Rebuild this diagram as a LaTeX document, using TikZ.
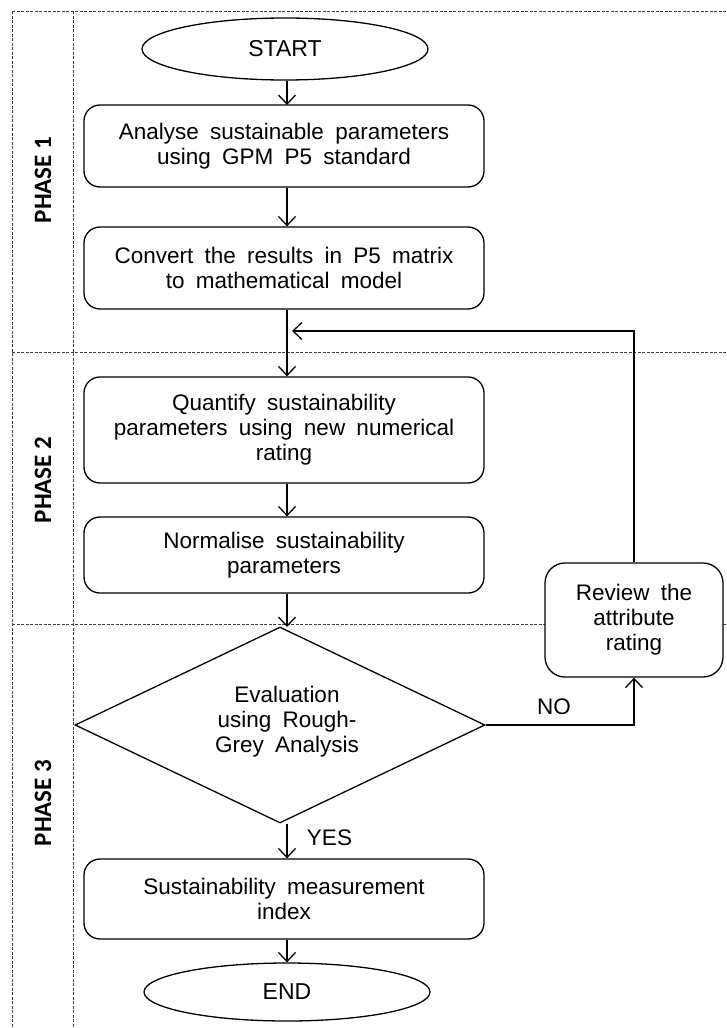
\documentclass[tikz,border=0pt]{standalone}
\usepackage{fontspec}
\setmainfont{Liberation Sans}
\newfontfamily\phasefont{Carlito}
\usetikzlibrary{shapes.geometric,arrows.meta}
\newcommand\boxtextfont{\fontsize{22.5}{25}\selectfont\spaceskip 0.5em\relax}
\begin{document}
\begin{tikzpicture}[x=1pt,y=-1pt,
  every node/.style={font=\boxtextfont, align=center},
  procbox/.style={draw, fill=white, line width=1.3pt, rounded corners=16pt, minimum width=400pt, inner sep=2pt},
  term/.style={draw, fill=white, ellipse, line width=1.3pt, minimum width=286pt, font=\fontsize{23}{26}\selectfont},
  arr/.style={line width=1.3pt, -{Straight Barb[length=9pt,width=17pt,line width=1.3pt]}},
  frame/.style={line width=0.9pt, draw=black!75, dash pattern=on 3pt off 1.5pt},
  phase/.style={rotate=90, font=\phasefont\bfseries\fontsize{25}{28}\selectfont}
]
\useasboundingbox (0,0) rectangle (727,1028);
% frame
\draw[frame] (12,11) -- (727,11);
\draw[frame] (12,11) -- (12,1028);
\draw[frame] (73,11) -- (73,1028);
\draw[frame] (12,352) -- (727,352);
\draw[frame] (12,624) -- (727,624);
% phase labels
\node[phase] (p1) at (43,180) {PHASE 1};
\node[phase] (p2) at (43,480) {PHASE 2};
\node[phase] (p3) at (43,803) {PHASE 3};
% nodes
\node[term, minimum height=62pt] (start) at (285,49) {START};
\node[procbox, minimum height=82pt] (b1) at (284,146) {Analyse sustainable parameters\\using GPM P5 standard};
\node[procbox, minimum height=82pt] (b2) at (284,268) {Convert the results in P5 matrix\\to mathematical model};
\node[procbox, minimum height=106pt] (b3) at (284,430) {Quantify sustainability\\parameters using new numerical\\rating};
\node[procbox, minimum height=76pt] (b4) at (284,555) {Normalise sustainability\\parameters};
\node[draw, fill=white, diamond, line width=1.3pt, minimum width=410pt, minimum height=196pt, inner sep=0pt] (dia) at (280,725) {};
\node (diat) at (287,722) {Evaluation\\using Rough-\\Grey Analysis};
\node[procbox, minimum width=178pt, minimum height=114pt, rounded corners=20pt] (rev) at (634,620) {Review the\\attribute\\rating};
\node[procbox, minimum height=80pt] (b5) at (284,899) {Sustainability measurement\\index};
\node[term, minimum height=58pt] (end) at (287,992) {END};
\coordinate (fb) at (292,331);
% connectors
\draw[arr] (start.south -| 287,0) -- (287,105);
\draw[arr] (b1.south -| 287,0) -- (b2.north -| 287,0);
\draw[arr] (b2.south -| 287,0) -- (b3.north -| 287,0);
\draw[arr] (b3.south -| 287,0) -- (b4.north -| 287,0);
\draw[arr] (b4.south -| 287,0) -- (287,627);
\draw[arr] (rev.north) |- (fb);
\draw[arr] (dia.east) -| node[pos=0.23, above, yshift=6pt] {NO} (rev.south);
\draw[arr] (dia.south -| 287,0) -- node[right, xshift=16pt, pos=0.42] {YES} (b5.north -| 287,0);
\draw[arr] (b5.south -| 287,0) -- (end.north -| 287,0);
\end{tikzpicture}
\end{document}
